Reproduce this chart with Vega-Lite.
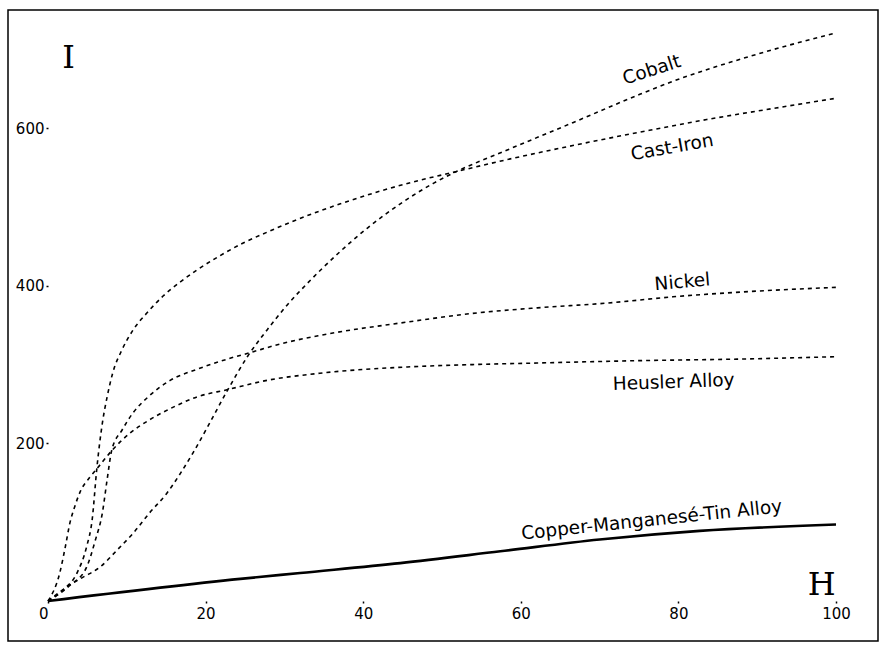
{
  "$schema": "https://vega.github.io/schema/vega-lite/v6.json",
  "width": 870,
  "height": 631,
  "autosize": {"type": "none"},
  "padding": {"left": 8, "top": 10, "right": 5, "bottom": 6},
  "background": "white",
  "config": {"view": {"stroke": "black", "strokeWidth": 1.5}, "font": "DejaVu Sans"},
  "datasets": {
    "curves": [
      {"series": "Cobalt", "H": 0, "I": 0},
      {"series": "Cobalt", "H": 2.4, "I": 18},
      {"series": "Cobalt", "H": 4.4, "I": 30},
      {"series": "Cobalt", "H": 6.6, "I": 43},
      {"series": "Cobalt", "H": 8.8, "I": 65},
      {"series": "Cobalt", "H": 10.8, "I": 86},
      {"series": "Cobalt", "H": 12.9, "I": 112},
      {"series": "Cobalt", "H": 15.1, "I": 137},
      {"series": "Cobalt", "H": 16.8, "I": 162},
      {"series": "Cobalt", "H": 18.4, "I": 188},
      {"series": "Cobalt", "H": 20.2, "I": 220},
      {"series": "Cobalt", "H": 22.7, "I": 266},
      {"series": "Cobalt", "H": 25.3, "I": 310},
      {"series": "Cobalt", "H": 27.8, "I": 344},
      {"series": "Cobalt", "H": 30.3, "I": 375},
      {"series": "Cobalt", "H": 32.9, "I": 403},
      {"series": "Cobalt", "H": 36.7, "I": 440},
      {"series": "Cobalt", "H": 40.5, "I": 473},
      {"series": "Cobalt", "H": 44.7, "I": 504},
      {"series": "Cobalt", "H": 48.9, "I": 530},
      {"series": "Cobalt", "H": 51, "I": 541},
      {"series": "Cobalt", "H": 58.2, "I": 572},
      {"series": "Cobalt", "H": 66.6, "I": 607},
      {"series": "Cobalt", "H": 75.1, "I": 643},
      {"series": "Cobalt", "H": 78.9, "I": 658},
      {"series": "Cobalt", "H": 89, "I": 691},
      {"series": "Cobalt", "H": 100, "I": 721},
      {"series": "Cast-Iron", "H": 0, "I": 0},
      {"series": "Cast-Iron", "H": 1.9, "I": 14},
      {"series": "Cast-Iron", "H": 3.7, "I": 36},
      {"series": "Cast-Iron", "H": 4.9, "I": 69},
      {"series": "Cast-Iron", "H": 5.6, "I": 103},
      {"series": "Cast-Iron", "H": 6.2, "I": 169},
      {"series": "Cast-Iron", "H": 6.9, "I": 226},
      {"series": "Cast-Iron", "H": 7.5, "I": 259},
      {"series": "Cast-Iron", "H": 8.2, "I": 289},
      {"series": "Cast-Iron", "H": 9.4, "I": 319},
      {"series": "Cast-Iron", "H": 10.8, "I": 344},
      {"series": "Cast-Iron", "H": 12.6, "I": 366},
      {"series": "Cast-Iron", "H": 14.6, "I": 387},
      {"series": "Cast-Iron", "H": 16.8, "I": 405},
      {"series": "Cast-Iron", "H": 18.9, "I": 420},
      {"series": "Cast-Iron", "H": 21.8, "I": 438},
      {"series": "Cast-Iron", "H": 24.7, "I": 454},
      {"series": "Cast-Iron", "H": 27.8, "I": 468},
      {"series": "Cast-Iron", "H": 31.1, "I": 482},
      {"series": "Cast-Iron", "H": 34.5, "I": 495},
      {"series": "Cast-Iron", "H": 37.1, "I": 504},
      {"series": "Cast-Iron", "H": 42.1, "I": 520},
      {"series": "Cast-Iron", "H": 47.2, "I": 534},
      {"series": "Cast-Iron", "H": 51, "I": 543},
      {"series": "Cast-Iron", "H": 58.2, "I": 560},
      {"series": "Cast-Iron", "H": 66.6, "I": 578},
      {"series": "Cast-Iron", "H": 75.1, "I": 595},
      {"series": "Cast-Iron", "H": 83.6, "I": 611},
      {"series": "Cast-Iron", "H": 92, "I": 625},
      {"series": "Cast-Iron", "H": 100, "I": 638},
      {"series": "Nickel", "H": 0, "I": 0},
      {"series": "Nickel", "H": 2.8, "I": 20},
      {"series": "Nickel", "H": 4.9, "I": 43},
      {"series": "Nickel", "H": 6.0, "I": 77},
      {"series": "Nickel", "H": 6.9, "I": 112},
      {"series": "Nickel", "H": 7.5, "I": 154},
      {"series": "Nickel", "H": 8.1, "I": 192},
      {"series": "Nickel", "H": 9.4, "I": 217},
      {"series": "Nickel", "H": 10.8, "I": 239},
      {"series": "Nickel", "H": 12.6, "I": 258},
      {"series": "Nickel", "H": 15.5, "I": 280},
      {"series": "Nickel", "H": 18.9, "I": 294},
      {"series": "Nickel", "H": 23.1, "I": 308},
      {"series": "Nickel", "H": 25.6, "I": 315},
      {"series": "Nickel", "H": 29.4, "I": 326},
      {"series": "Nickel", "H": 34.5, "I": 337},
      {"series": "Nickel", "H": 45.6, "I": 354},
      {"series": "Nickel", "H": 53.9, "I": 365},
      {"series": "Nickel", "H": 62.1, "I": 372},
      {"series": "Nickel", "H": 70.9, "I": 378},
      {"series": "Nickel", "H": 79.3, "I": 386},
      {"series": "Nickel", "H": 87.8, "I": 392},
      {"series": "Nickel", "H": 100, "I": 398},
      {"series": "Heusler Alloy", "H": 0, "I": 0},
      {"series": "Heusler Alloy", "H": 1.5, "I": 36},
      {"series": "Heusler Alloy", "H": 2.2, "I": 69},
      {"series": "Heusler Alloy", "H": 2.8, "I": 100},
      {"series": "Heusler Alloy", "H": 3.3, "I": 117},
      {"series": "Heusler Alloy", "H": 4.1, "I": 139},
      {"series": "Heusler Alloy", "H": 5.3, "I": 157},
      {"series": "Heusler Alloy", "H": 6.3, "I": 169},
      {"series": "Heusler Alloy", "H": 8.2, "I": 192},
      {"series": "Heusler Alloy", "H": 10.4, "I": 213},
      {"series": "Heusler Alloy", "H": 12.9, "I": 230},
      {"series": "Heusler Alloy", "H": 15.9, "I": 246},
      {"series": "Heusler Alloy", "H": 18.9, "I": 259},
      {"series": "Heusler Alloy", "H": 22.7, "I": 268},
      {"series": "Heusler Alloy", "H": 27.8, "I": 280},
      {"series": "Heusler Alloy", "H": 34.5, "I": 289},
      {"series": "Heusler Alloy", "H": 45.6, "I": 297},
      {"series": "Heusler Alloy", "H": 53.9, "I": 300},
      {"series": "Heusler Alloy", "H": 62.1, "I": 302},
      {"series": "Heusler Alloy", "H": 75, "I": 305},
      {"series": "Heusler Alloy", "H": 87.8, "I": 307},
      {"series": "Heusler Alloy", "H": 100, "I": 310},
      {"series": "Copper-Manganesé-Tin Alloy", "H": 0, "I": 0},
      {"series": "Copper-Manganesé-Tin Alloy", "H": 24.4, "I": 28},
      {"series": "Copper-Manganesé-Tin Alloy", "H": 32, "I": 35.5},
      {"series": "Copper-Manganesé-Tin Alloy", "H": 44.7, "I": 48},
      {"series": "Copper-Manganesé-Tin Alloy", "H": 57.4, "I": 63},
      {"series": "Copper-Manganesé-Tin Alloy", "H": 70, "I": 78},
      {"series": "Copper-Manganesé-Tin Alloy", "H": 82.7, "I": 89},
      {"series": "Copper-Manganesé-Tin Alloy", "H": 100, "I": 97}
    ],
    "labels": [
      {"series": "Cobalt", "H": 76.6, "I": 674},
      {"series": "Cast-Iron", "H": 79.2, "I": 576},
      {"series": "Nickel", "H": 80.5, "I": 405},
      {"series": "Heusler Alloy", "H": 79.4, "I": 278},
      {"series": "Copper-Manganesé-Tin Alloy", "H": 76.6, "I": 103}
    ],
    "axisTitles": [
      {"name": "I", "H": 2.6, "I": 689},
      {"name": "H", "H": 98.2, "I": 20}
    ]
  },
  "encoding": {
    "x": {
      "field": "H", "type": "quantitative",
      "scale": {"domain": [-5.08, 105.33], "nice": false, "zero": false},
      "axis": {
        "values": [0, 20, 40, 60, 80, 100], "offset": -40, "domain": false, "grid": false,
        "ticks": true, "tickSize": 2, "tickColor": "black", "tickWidth": 1.5,
        "labelFont": "DejaVu Sans", "labelFontSize": 15, "labelColor": "black", "labelPadding": 3,
        "labelAlign": {"condition": {"test": "datum.value === 0", "value": "right"}, "value": "center"},
        "labelFlush": false, "labelOverlap": false, "title": null
      }
    },
    "y": {
      "field": "I", "type": "quantitative",
      "scale": {"domain": [-50.8, 750], "nice": false, "zero": false},
      "axis": {
        "values": [200, 400, 600], "offset": -40, "domain": false, "grid": false,
        "ticks": true, "tickSize": 2, "tickColor": "black", "tickWidth": 1.5,
        "labelFont": "DejaVu Sans", "labelFontSize": 15, "labelColor": "black", "labelPadding": 2,
        "labelFlush": false, "labelOverlap": false, "title": null
      }
    }
  },
  "layer": [
    {
      "data": {"values": [{}]},
      "mark": {"type": "rect", "fillOpacity": 0, "stroke": "black", "strokeWidth": 1.2},
      "encoding": {
        "x": {"datum": -5.58, "type": "quantitative", "scale": {"domain": [-5.08, 105.33], "nice": false, "zero": false}},
        "x2": {"datum": 105.84},
        "y": {"datum": 756.3, "type": "quantitative", "scale": {"domain": [-50.8, 750], "nice": false, "zero": false}},
        "y2": {"datum": -55.8}
      }
    },
    {
      "data": {"values": [{}]},
      "mark": {"type": "rule", "color": "black", "strokeWidth": 2},
      "encoding": {
        "x": {"datum": 0, "type": "quantitative", "scale": {"domain": [-5.08, 105.33], "nice": false, "zero": false}},
        "y": {"datum": 0, "type": "quantitative", "scale": {"domain": [-50.8, 750], "nice": false, "zero": false}},
        "y2": {"datum": 700}
      }
    },
    {
      "data": {"values": [{}]},
      "mark": {"type": "rule", "color": "black", "strokeWidth": 1.4},
      "encoding": {
        "x": {"datum": 0, "type": "quantitative", "scale": {"domain": [-5.08, 105.33], "nice": false, "zero": false}},
        "x2": {"datum": 100},
        "y": {"datum": 0, "type": "quantitative", "scale": {"domain": [-50.8, 750], "nice": false, "zero": false}}
      }
    },
    {
      "data": {"name": "curves"},
      "transform": [{"filter": "datum.series !== 'Copper-Manganesé-Tin Alloy'"}],
      "mark": {"type": "line", "color": "black", "strokeWidth": 1.6, "strokeDash": [4, 4], "interpolate": "monotone"},
      "encoding": {"detail": {"field": "series"}}
    },
    {
      "data": {"name": "curves"},
      "transform": [{"filter": "datum.series === 'Copper-Manganesé-Tin Alloy'"}],
      "mark": {"type": "line", "color": "black", "strokeWidth": 2.6, "interpolate": "monotone"},
      "encoding": {"detail": {"field": "series"}}
    },
    {
      "data": {"name": "labels"},
      "mark": {"type": "text", "font": "DejaVu Sans", "fontSize": 18.5, "color": "black", "align": "center", "baseline": "middle"},
      "encoding": {
        "text": {"field": "series"},
        "angle": {
          "field": "series", "type": "nominal", "legend": null,
          "scale": {
            "type": "ordinal",
            "domain": ["Cobalt", "Cast-Iron", "Nickel", "Heusler Alloy", "Copper-Manganesé-Tin Alloy"],
            "range": [-18, -10, -5, -2, -6]
          }
        }
      }
    },
    {
      "data": {"name": "axisTitles"},
      "mark": {"type": "text", "font": "DejaVu Serif", "fontSize": 32, "color": "black", "align": "center", "baseline": "middle"},
      "encoding": {"text": {"field": "name"}}
    }
  ]
}
